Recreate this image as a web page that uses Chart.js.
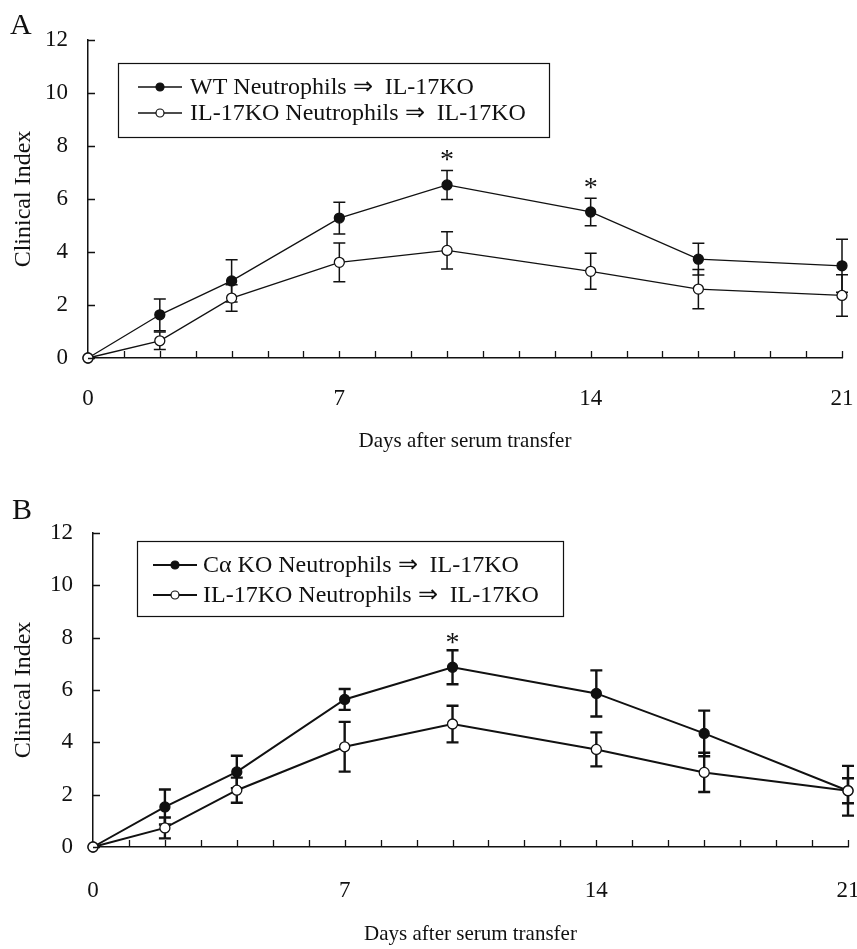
<!DOCTYPE html>
<html>
<head>
<meta charset="utf-8">
<script src="https://cdn.jsdelivr.net/npm/chart.js@4.4.0/dist/chart.umd.min.js"></script>
<style>
  body { margin: 0; background: #fff; width: 857px; height: 949px; overflow: hidden; position: relative; font-family: "Liberation Serif", serif; }
  canvas { position: absolute; left: 0; }
  .tag { position: absolute; font-size: 30px; line-height: 1; color: #111; }
</style>
</head>
<body>
<canvas id="chartA" width="857" height="470" style="top:0"></canvas>
<canvas id="chartB" width="857" height="479" style="top:470px"></canvas>
<div class="tag" style="left:10px;top:9px">A</div>
<div class="tag" style="left:12px;top:494px">B</div>
<script>
// days after serum transfer
const days = [0, 2, 4, 7, 10, 14, 17, 21];
const yTicks = [0, 2, 4, 6, 8, 10, 12];
const xTickLabels = [0, 7, 14, 21];

// panel A
const wtA = [0, 1.63, 2.91, 5.28, 6.53, 5.51, 3.73, 3.48];
const wtErrA = [0, 0.6, 0.8, 0.6, 0.55, 0.52, 0.6, 1.0];
const koA = [0, 0.65, 2.26, 3.61, 4.06, 3.27, 2.60, 2.36];
const koErrA = [0, 0.33, 0.5, 0.73, 0.7, 0.68, 0.74, 0.78];
const starDaysA = [10, 14];

// panel B
const caB = [0, 1.53, 2.87, 5.64, 6.87, 5.87, 4.34, 2.15];
const caErrB = [0, 0.67, 0.62, 0.4, 0.65, 0.88, 0.87, 0.95];
const koB = [0, 0.73, 2.17, 3.83, 4.7, 3.73, 2.85, 2.15];
const koErrB = [0, 0.4, 0.48, 0.95, 0.7, 0.65, 0.75, 0.48];
const starDaysB = [10];

const INK = '#111';
const FONT = '"Liberation Serif", "Times New Roman", serif';

const toPoints = vals => days.map((d, i) => ({ x: d, y: vals[i] }));

// error bars, inner tick marks, asterisks and the boxed legend
const extras = {
  id: 'extras',
  beforeDatasetsDraw(chart, args, o) {
    const ctx = chart.ctx, xs = chart.scales.x, ys = chart.scales.y;
    ctx.save();
    ctx.strokeStyle = INK;
    ctx.lineWidth = o.barWidth;
    chart.data.datasets.forEach(ds => {
      ds.data.forEach((p, i) => {
        const e = ds.errors[i];
        if (!e) return;
        const px = xs.getPixelForValue(p.x);
        const top = ys.getPixelForValue(p.y + e);
        const bot = ys.getPixelForValue(p.y - e);
        ctx.beginPath();
        ctx.moveTo(px, top); ctx.lineTo(px, bot);
        ctx.moveTo(px - 6, top); ctx.lineTo(px + 6, top);
        ctx.moveTo(px - 6, bot); ctx.lineTo(px + 6, bot);
        ctx.stroke();
      });
    });
    ctx.restore();
  },
  afterDraw(chart, args, o) {
    const ctx = chart.ctx, xs = chart.scales.x, ys = chart.scales.y;
    const area = chart.chartArea;
    ctx.save();
    ctx.strokeStyle = INK;
    ctx.lineWidth = 1.3;
    ctx.beginPath();
    for (let d = 1; d <= 21; d++) {
      const px = Math.round(xs.getPixelForValue(d)) + 0.5;
      ctx.moveTo(px, area.bottom); ctx.lineTo(px, area.bottom - 7);
    }
    yTicks.forEach(v => {
      const py = Math.round(ys.getPixelForValue(v)) + 0.5;
      ctx.moveTo(area.left, py); ctx.lineTo(area.left + 7, py);
    });
    ctx.stroke();

    // significance asterisks above the first series
    const ds = chart.data.datasets[0];
    ctx.fillStyle = INK;
    ctx.font = '28px ' + FONT;
    ctx.textAlign = 'center';
    ctx.textBaseline = 'alphabetic';
    o.stars.forEach(d => {
      const i = days.indexOf(d);
      const px = xs.getPixelForValue(d);
      const py = ys.getPixelForValue(ds.data[i].y + ds.errors[i]) - o.starGap;
      ctx.fillText('*', px, py + 14);
    });

    // legend box
    const L = o.legend;
    ctx.lineWidth = 1.2;
    ctx.strokeRect(L.x + 0.5, L.y + 0.5, L.w, L.h);
    ctx.font = L.size + 'px ' + FONT;
    ctx.textAlign = 'left';
    ctx.textBaseline = 'middle';
    chart.data.datasets.forEach((s, k) => {
      const ry = L.y + L.rows[k];
      ctx.lineWidth = s.borderWidth;
      ctx.beginPath();
      ctx.moveTo(L.x + L.line[0], ry); ctx.lineTo(L.x + L.line[1], ry);
      ctx.stroke();
      ctx.beginPath();
      ctx.arc(L.x + (L.line[0] + L.line[1]) / 2, ry, 4, 0, Math.PI * 2);
      ctx.fillStyle = s.pointBackgroundColor;
      ctx.fill();
      ctx.lineWidth = 1.2;
      ctx.stroke();
      ctx.fillStyle = INK;
      ctx.fillText(s.label, L.x + L.text, ry + 1);
    });
    ctx.restore();
  }
};

function makePanel(id, series, lw, box) {
  return new Chart(document.getElementById(id), {
    type: 'line',
    data: {
      datasets: series.map((s, k) => ({
        label: s.label,
        data: toPoints(s.values),
        errors: s.errors,
        order: series.length - k,
        clip: false,
        borderColor: INK,
        borderWidth: lw,
        pointRadius: 5,
        pointHoverRadius: 5,
        pointBorderWidth: 1.3,
        pointBorderColor: INK,
        pointBackgroundColor: s.filled ? INK : '#fff',
        tension: 0,
        fill: false
      }))
    },
    options: {
      responsive: false,
      animation: false,
      events: [],
      layout: { padding: { top: box.top, right: box.right, left: 0, bottom: 0 } },
      plugins: {
        legend: { display: false },
        tooltip: { enabled: false },
        extras: box.extras
      },
      scales: {
        x: {
          type: 'linear',
          min: 0, max: 21,
          afterFit: s => { s.height = box.xHeight; s.paddingLeft = 0; s.paddingRight = 0; },
          afterBuildTicks: s => { s.ticks = xTickLabels.map(v => ({ value: v })); },
          border: { color: INK, width: 1.5 },
          grid: { drawOnChartArea: false, drawTicks: false },
          ticks: { color: INK, padding: box.xTickPad, maxRotation: 0, font: { family: FONT, size: 23 } },
          title: { display: true, text: 'Days after serum transfer', color: INK, padding: { top: box.titlePad, bottom: box.titlePad }, font: { family: FONT, size: 21 } }
        },
        y: {
          min: 0, max: 12,
          afterFit: s => { s.width = box.yWidth; },
          afterBuildTicks: s => { s.ticks = yTicks.map(v => ({ value: v })); },
          border: { color: INK, width: 1.5 },
          grid: { drawOnChartArea: false, drawTicks: false },
          ticks: { color: INK, padding: 20, font: { family: FONT, size: 23 } },
          title: { display: true, text: 'Clinical Index', color: INK, padding: { top: 9, bottom: 9 }, font: { family: FONT, size: 24 } }
        }
      }
    },
    plugins: [extras]
  });
}

makePanel('chartA', [
  { label: 'WT Neutrophils \u21D2  IL-17KO', values: wtA, errors: wtErrA, filled: true },
  { label: 'IL-17KO Neutrophils \u21D2  IL-17KO', values: koA, errors: koErrA, filled: false }
], 1.3, {
  top: 40, right: 15, xHeight: 112, yWidth: 88, xTickPad: 27, titlePad: 16,
  extras: {
    barWidth: 1.5, stars: starDaysA, starGap: 16,
    legend: { x: 118, y: 63, w: 431, h: 74, rows: [24, 50], line: [20, 64], text: 72, size: 24 }
  }
});

makePanel('chartB', [
  { label: 'C\u03B1 KO Neutrophils \u21D2  IL-17KO', values: caB, errors: caErrB, filled: true },
  { label: 'IL-17KO Neutrophils \u21D2  IL-17KO', values: koB, errors: koErrB, filled: false }
], 2, {
  top: 63, right: 9, xHeight: 102, yWidth: 93, xTickPad: 30, titlePad: 2,
  extras: {
    barWidth: 2.4, stars: starDaysB, starGap: 13,
    legend: { x: 137, y: 71, w: 426, h: 75, rows: [24, 54], line: [16, 60], text: 66, size: 24 }
  }
});
</script>
</body>
</html>
